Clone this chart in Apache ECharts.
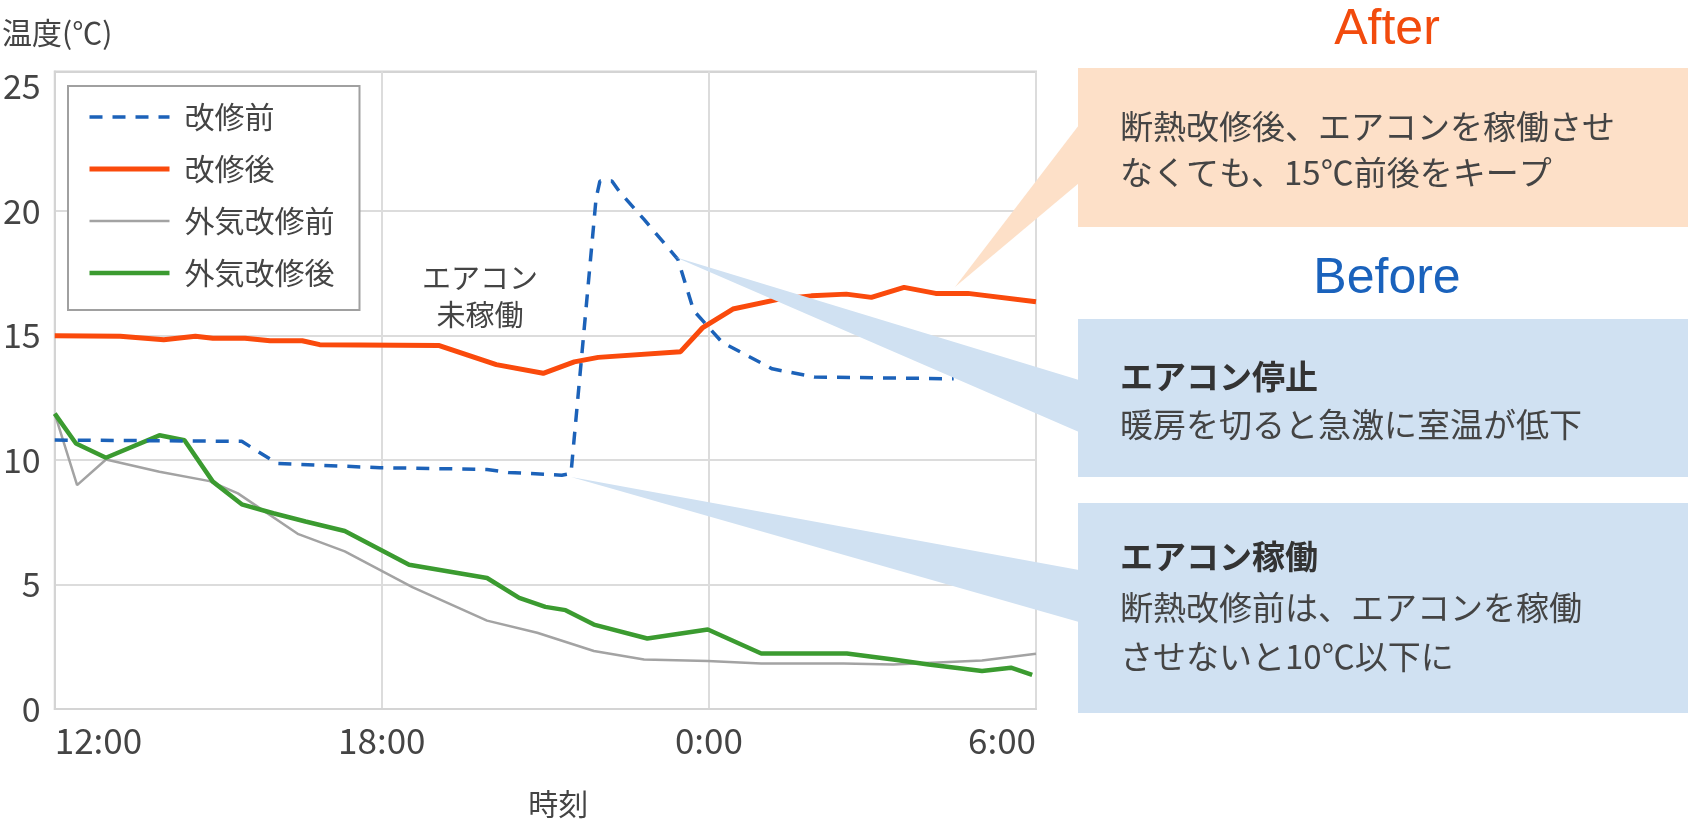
<!DOCTYPE html>
<html>
<head>
<meta charset="utf-8">
<script src="https://cdn.jsdelivr.net/npm/echarts@6/dist/echarts.min.js"></script>
<style>
  html, body { margin: 0; padding: 0; background: #fff; }
  #main { width: 1688px; height: 824px; }
</style>
</head>
<body>
<div id="main"></div>
<script>
// 時刻は12:00からの経過時間(h)
const hourTicks = ['12:00', '18:00', '0:00', '6:00'];

const kaishuMae = [
  [0, 10.8], [3.43, 10.75], [4.08, 9.86], [5.97, 9.69], [7.93, 9.62], [8.32, 9.5],
  [9.3, 9.39], [9.47, 9.46], [9.93, 20.5], [10.0, 21.2], [10.22, 21.2], [10.35, 20.8],
  [10.81, 19.66], [11.43, 18.06], [11.72, 16.0], [12.24, 14.73], [13.16, 13.66],
  [13.94, 13.33], [16.49, 13.26]
];
const kaishuGo = [
  [0, 14.99], [1.2, 14.97], [2.0, 14.83], [2.58, 14.97], [2.9, 14.89], [3.49, 14.89],
  [3.95, 14.79], [4.54, 14.79], [4.86, 14.63], [7.04, 14.6], [8.1, 13.83], [8.96, 13.48],
  [9.53, 13.94], [9.97, 14.12], [11.48, 14.35], [11.88, 15.3], [12.44, 16.06],
  [13.29, 16.46], [13.88, 16.59], [14.52, 16.66], [14.98, 16.53], [15.58, 16.93],
  [16.16, 16.69], [16.75, 16.69], [18, 16.35]
];
const gaikiMae = [
  [0, 11.86], [0.41, 8.99], [0.94, 10.02], [1.92, 9.53], [2.84, 9.15], [3.36, 8.66],
  [4.47, 7.02], [5.32, 6.33], [6.56, 4.89], [7.93, 3.55], [8.85, 3.06], [9.89, 2.33],
  [10.81, 1.99], [11.98, 1.93], [12.96, 1.83], [14.47, 1.83], [15.38, 1.79],
  [17.01, 1.95], [18, 2.22]
];
const gaikiGo = [
  [0, 11.86], [0.39, 10.66], [0.94, 10.09], [1.92, 10.99], [2.38, 10.79], [2.9, 9.13],
  [3.43, 8.22], [4.01, 7.86], [4.6, 7.53], [5.32, 7.15], [6.5, 5.79], [7.93, 5.26],
  [8.52, 4.46], [9.0, 4.1], [9.37, 3.97], [9.89, 3.39], [10.87, 2.83], [11.98, 3.19],
  [12.96, 2.23], [14.53, 2.23], [15.38, 1.99], [16.03, 1.79], [17.01, 1.53],
  [17.54, 1.66], [17.93, 1.37]
];

const FONT = '"Noto Sans CJK JP", "Noto Sans", sans-serif';
const TXT = '#444';

var chart = echarts.init(document.getElementById('main'));

function txt(text, x, y, size, extra) {
  return {
    type: 'text', z: 100,
    style: Object.assign({ text: text, x: x, y: y, fontSize: size, fontFamily: FONT, fill: TXT,
             textAlign: 'left', textVerticalAlign: 'middle' }, extra || {})
  };
}

var option = {
  animation: false,
  backgroundColor: '#fff',
  grid: {
    left: 52, right: 652, top: 71.5, bottom: 112.5,
    show: true, borderColor: '#d4d4d4', borderWidth: 2
  },
  legend: {
    data: [
      { name: '改修前', itemStyle: { opacity: 0 }, lineStyle: { width: 3.5 } },
      { name: '改修後', itemStyle: { opacity: 0 }, lineStyle: { width: 5 } },
      { name: '外気改修前', itemStyle: { opacity: 0 }, lineStyle: { width: 2.5 } },
      { name: '外気改修後', itemStyle: { opacity: 0 }, lineStyle: { width: 4.5 } }
    ],
    orient: 'vertical',
    left: 68, top: 86,
    padding: [16, 25, 22, 19],
    itemGap: 22,
    itemWidth: 80, itemHeight: 14,
    borderColor: '#a0a0a0', borderWidth: 2,
    backgroundColor: '#fff',
    textStyle: { fontSize: 30, lineHeight: 30, color: TXT, fontFamily: FONT, padding: [0, 0, 0, 10] }
  },
  xAxis: {
    type: 'value', min: 0, max: 18, interval: 6,
    name: '時刻', nameLocation: 'middle', nameGap: 80,
    nameTextStyle: { fontSize: 30, color: TXT, fontFamily: FONT, padding: [0, 0, 0, 26] },
    axisLine: { show: true, lineStyle: { color: '#d4d4d4', width: 2 } },
    axisTick: { show: false },
    axisLabel: {
      fontSize: 35, color: TXT, fontFamily: FONT, margin: 14,
      alignMinLabel: 'left', alignMaxLabel: 'right',
      formatter: function (v) { return hourTicks[Math.round(v / 6)]; }
    },
    splitLine: { show: true, lineStyle: { color: '#dcdcdc', width: 2 } }
  },
  yAxis: {
    type: 'value', min: 0, max: 25.6, interval: 5,
    axisLine: { show: true, lineStyle: { color: '#d4d4d4', width: 2 } },
    axisTick: { show: false },
    axisLabel: {
      fontSize: 34, color: TXT, fontFamily: FONT, margin: 14,
      formatter: function (v) { return v % 5 === 0 ? String(v) : ''; }
    },
    splitLine: {
      show: true,
      lineStyle: { color: ['#dcdcdc', '#dcdcdc', '#dcdcdc', '#dcdcdc', '#dcdcdc', 'rgba(0,0,0,0)', '#d4d4d4'], width: 2 }
    }
  },
  series: [
    { name: '外気改修前', type: 'line', data: gaikiMae, symbol: 'none',
      lineStyle: { color: '#a3a3a3', width: 2.5 }, itemStyle: { color: '#a3a3a3' } },
    { name: '外気改修後', type: 'line', data: gaikiGo, symbol: 'none',
      lineStyle: { color: '#3b9b30', width: 4.5 }, itemStyle: { color: '#3b9b30' } },
    { name: '改修前', type: 'line', data: kaishuMae, symbol: 'none',
      lineStyle: { color: '#1c62b9', width: 3.5, type: [13, 10] }, itemStyle: { color: '#1c62b9' } },
    { name: '改修後', type: 'line', data: kaishuGo, symbol: 'none',
      lineStyle: { color: '#fa4a0c', width: 5 }, itemStyle: { color: '#fa4a0c' } }
  ],
  graphic: [
    txt('温度(℃)', 2, 33, 30),
    txt('エアコン', 480, 278, 29, { textAlign: 'center' }),
    txt('未稼働', 480, 315, 29, { textAlign: 'center' }),

    // 吹き出し
    { type: 'polygon', z: 90, shape: { points: [[955, 287], [1079, 125], [1079, 183]] }, style: { fill: '#fde0c8' } },
    { type: 'polygon', z: 90, shape: { points: [[675, 257], [1079, 380], [1079, 432]] }, style: { fill: '#d0e1f2' } },
    { type: 'polygon', z: 90, shape: { points: [[571, 477], [1079, 570], [1079, 622]] }, style: { fill: '#d0e1f2' } },
    { type: 'rect', z: 90, shape: { x: 1078, y: 68, width: 610, height: 159 }, style: { fill: '#fde0c8' } },
    { type: 'rect', z: 90, shape: { x: 1078, y: 319, width: 610, height: 158 }, style: { fill: '#d0e1f2' } },
    { type: 'rect', z: 90, shape: { x: 1078, y: 503, width: 610, height: 210 }, style: { fill: '#d0e1f2' } },

    txt('After', 1387, 30, 50, { fontFamily: '"Liberation Sans", Arial, sans-serif', fill: '#f24b0d', textAlign: 'center' }),
    txt('Before', 1387, 279, 50, { fontFamily: '"Liberation Sans", Arial, sans-serif', fill: '#1a62bc', textAlign: 'center' }),

    txt('断熱改修後、エアコンを稼働させ', 1120, 126, 33),
    txt('なくても、15℃前後をキープ', 1120, 172, 33),
    txt('エアコン停止', 1120, 376, 33, { fontWeight: 'bold', fill: '#333' }),
    txt('暖房を切ると急激に室温が低下', 1120, 424, 33),
    txt('エアコン稼働', 1120, 556, 33, { fontWeight: 'bold', fill: '#333' }),
    txt('断熱改修前は、エアコンを稼働', 1120, 607, 33),
    txt('させないと10℃以下に', 1120, 656, 33)
  ]
};

chart.setOption(option);
</script>
</body>
</html>
